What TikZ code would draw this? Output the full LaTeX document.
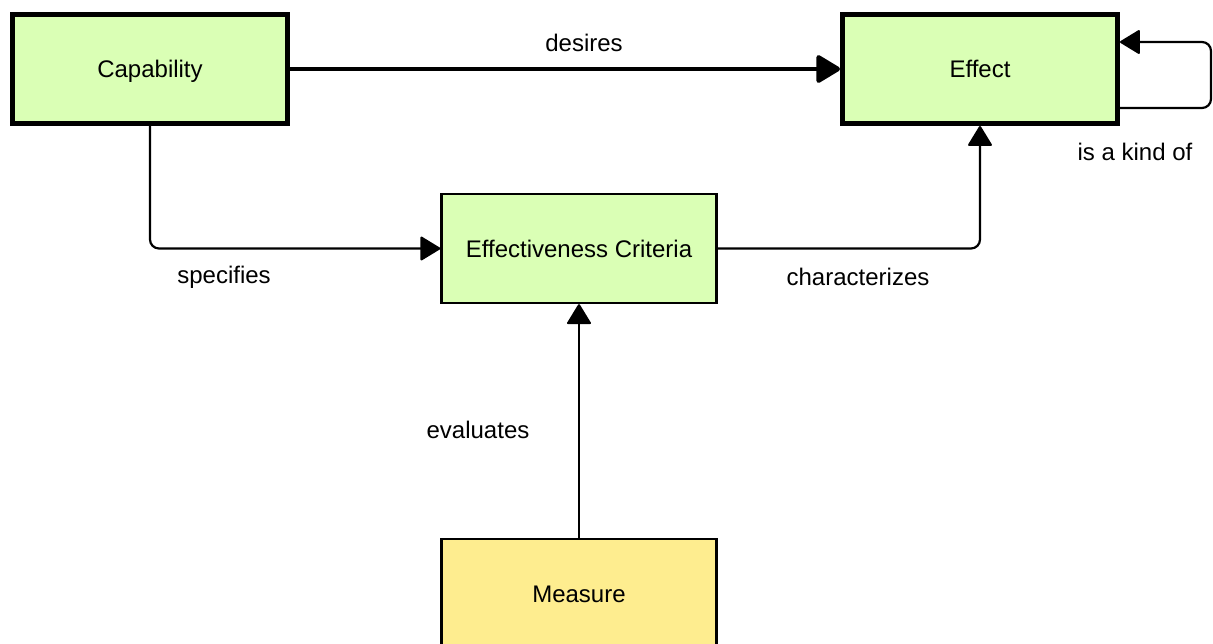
\documentclass[tikz,border=0pt]{standalone}
\usepackage{fontspec}
\setmainfont{Liberation Sans}
\usetikzlibrary{arrows.meta}
\definecolor{conceptgreen}{RGB}{218,255,181}
\definecolor{measureyellow}{RGB}{254,237,143}
\begin{document}
\begin{tikzpicture}[x=1pt,y=-1pt,
  txt/.style={font=\fontsize{24}{29}\selectfont},
  box/.style={txt, draw=black, rectangle, fill=conceptgreen, line width=2.4pt,
    minimum width=275pt, minimum height=109pt, inner sep=0pt,
    text height=17pt, text depth=0pt},
  heavybox/.style={box, line width=5pt},
  measurebox/.style={box, fill=measureyellow},
  conn/.style={draw=black, line width=2.2pt, rounded corners=9pt,
    -{Triangle[length=21pt,width=25pt,round]}},
  heavyconn/.style={draw=black, line width=4.6pt,
    -{Triangle[length=26pt,width=30pt,round]}},
  lbl/.style={txt, inner sep=0pt}]
  % canvas
  \useasboundingbox (0,0) rectangle (1213,643);
  \fill[white] (0,0) rectangle (1213,643);
  \clip (0,0) rectangle (1213,643);

  % concepts
  \node[heavybox] (cap) at (150,69) {Capability};
  \node[heavybox] (eff) at (980,69) {Effect};
  \node[box] (crit) at (579,248.5) {Effectiveness Criteria};
  \node[measurebox] (meas) at (579,593.5) {Measure};

  % relations
  \draw[heavyconn] (cap.east) -- (eff.west);
  \draw[conn] (cap.south) |- (crit.west);
  \draw[conn] (crit.east) -| (eff.south);
  \draw[conn] (meas.north) -- (crit.south);
  \draw[conn] ([yshift=-39pt]eff.east) -- ++(91,0) |- ([yshift=27pt]eff.east);

  % relation labels
  \node[lbl] (ldes) at (584,43) {desires};
  \node[lbl] (lspec) at (224,277) {specifies};
  \node[lbl] (lchar) at (858,277) {characterizes};
  \node[lbl] (leval) at (478,430) {evaluates};
  \node[lbl] (lkind) at (1135,152) {is a kind of};
\end{tikzpicture}
\end{document}
